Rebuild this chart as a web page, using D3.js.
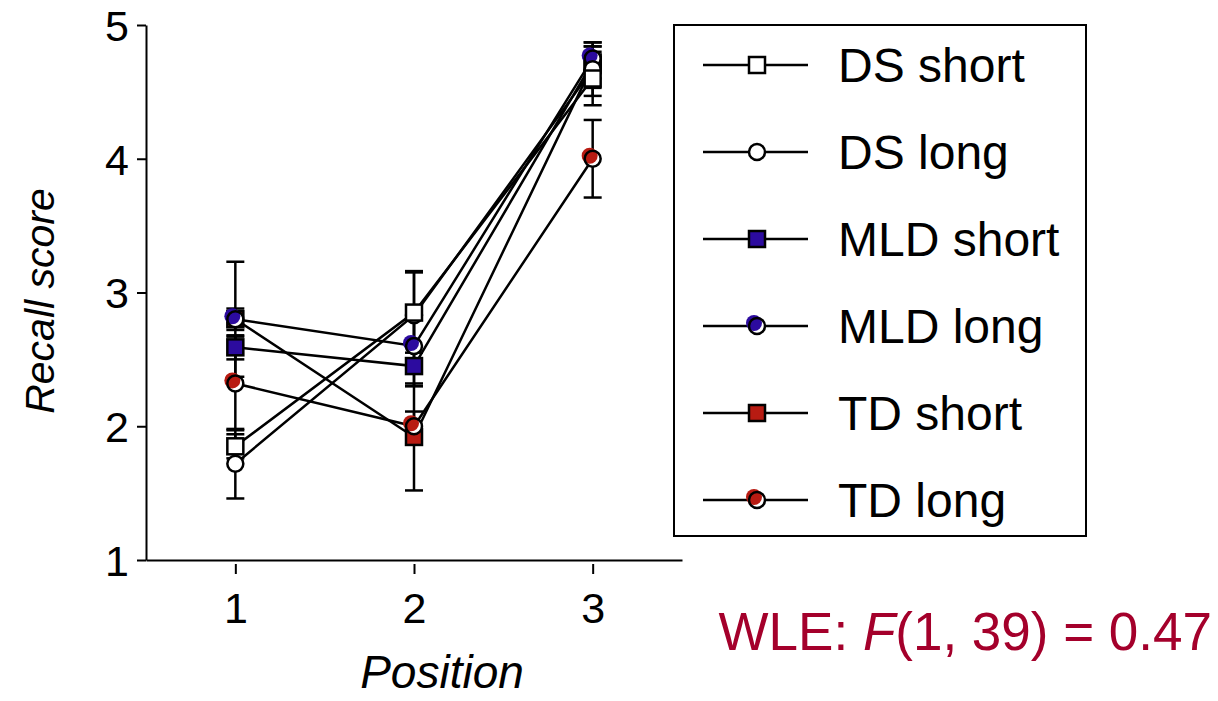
<!DOCTYPE html>
<html>
<head>
<meta charset="utf-8">
<script src="https://cdn.jsdelivr.net/npm/d3@7"></script>
<style>
  body { margin: 0; background: #fff; }
  svg text { font-family: "Liberation Sans", Arial, sans-serif; }
</style>
</head>
<body>
<div id="chart"></div>
<script>
// Données
const positions = [1, 2, 3];
const seriesNames = ['DS short', 'DS long', 'MLD short', 'MLD long', 'TD short', 'TD long'];
const dsShort = [1.85, 2.85, 4.60];
const dsShortErr = [0.09, 0.30, 0.20];
const dsLong = [1.72, 2.83, 4.67];
const dsLongErr = [0.26, 0.33, 0.20];
const mldShort = [2.59, 2.45, 4.72];
const mldShortErr = [0.09, 0.15, 0.12];
const mldLong = [2.80, 2.60, 4.75];
const mldLongErr = [0.08, 0.30, 0.09];
const tdShort = [2.80, 1.92, 4.70];
const tdShortErr = [0.43, 0.40, 0.17];
const tdLong = [2.32, 2.00, 4.00];
const tdLongErr = [0.35, 0.11, 0.29];
const yTicks = [1, 2, 3, 4, 5];

const blue = '#2c0b9f';
const red = '#b81b12';

const series = [
    { name: seriesNames[0], values: dsShort, err: dsShortErr, shape: 'square', fill: '#fff' },
    { name: seriesNames[1], values: dsLong, err: dsLongErr, shape: 'circle', fill: '#fff' },
    { name: seriesNames[2], values: mldShort, err: mldShortErr, shape: 'square', fill: blue },
    { name: seriesNames[3], values: mldLong, err: mldLongErr, shape: 'circle', fill: blue },
    { name: seriesNames[4], values: tdShort, err: tdShortErr, shape: 'square', fill: red },
    { name: seriesNames[5], values: tdLong, err: tdLongErr, shape: 'circle', fill: red }
];

const width = 1218, height = 701;
const svg = d3.select('#chart').append('svg')
    .attr('width', width)
    .attr('height', height);

const x = d3.scaleLinear().domain([0.5, 3.5]).range([146, 682]);
const y = d3.scaleLinear().domain([1, 5]).range([560, 25]);

// Axes
const yAxis = svg.append('g')
    .attr('transform', 'translate(146,0)')
    .call(d3.axisLeft(y).tickValues(yTicks).tickFormat(d3.format('d'))
        .tickSize(9).tickPadding(8).tickSizeOuter(0));
yAxis.select('.domain').attr('stroke-width', 2);
yAxis.selectAll('.tick line').attr('stroke-width', 2);
yAxis.selectAll('.tick text').style('font-size', '43px').attr('dy', '0.36em');

const xAxis = svg.append('g')
    .attr('transform', 'translate(0,560)')
    .call(d3.axisBottom(x).tickValues(positions).tickFormat(d3.format('d'))
        .tickSize(14).tickPadding(18).tickSizeOuter(0));
xAxis.select('.domain').attr('stroke-width', 2);
xAxis.selectAll('.tick line').attr('stroke-width', 2).attr('y1', 4);
xAxis.selectAll('.tick text').style('font-size', '43px');

svg.append('text')
    .attr('x', 442)
    .attr('y', 688)
    .attr('text-anchor', 'middle')
    .style('font-size', '46px')
    .style('font-style', 'italic')
    .text('Position');

svg.append('text')
    .attr('transform', `translate(54,301) rotate(-90)`)
    .attr('text-anchor', 'middle')
    .style('font-size', '41px')
    .style('font-style', 'italic')
    .text('Recall score');

// Lignes
const line = d3.line()
    .x((d, i) => x(positions[i]))
    .y(d => y(d));

svg.append('g').selectAll('path')
    .data(series)
    .enter()
    .append('path')
    .attr('d', d => line(d.values))
    .attr('fill', 'none')
    .attr('stroke', '#000')
    .attr('stroke-width', 2.5);

// Barres d'erreur
const capW = 9;
const errG = svg.append('g').attr('stroke', '#000').attr('stroke-width', 2.5);
series.forEach(s => {
    s.values.forEach((v, i) => {
        const cx = x(positions[i]);
        const y0 = y(v - s.err[i]);
        const y1 = y(v + s.err[i]);
        errG.append('line').attr('x1', cx).attr('x2', cx).attr('y1', y0).attr('y2', y1);
        errG.append('line').attr('x1', cx - capW).attr('x2', cx + capW).attr('y1', y0).attr('y2', y0);
        errG.append('line').attr('x1', cx - capW).attr('x2', cx + capW).attr('y1', y1).attr('y2', y1);
    });
});

// Marqueurs
function drawMarker(g, s, cx, cy) {
    if (s.shape === 'square') {
        g.append('rect')
            .attr('x', cx - 8).attr('y', cy - 8)
            .attr('width', 16).attr('height', 16)
            .attr('fill', s.fill)
            .attr('stroke', '#000')
            .attr('stroke-width', 2.5);
    } else if (s.fill === '#fff') {
        g.append('circle')
            .attr('cx', cx).attr('cy', cy).attr('r', 8)
            .attr('fill', '#fff')
            .attr('stroke', '#000')
            .attr('stroke-width', 2.5);
    } else {
        g.append('circle')
            .attr('cx', cx).attr('cy', cy).attr('r', 8)
            .attr('fill', '#fff');
        g.append('circle')
            .attr('cx', cx - 3).attr('cy', cy - 3).attr('r', 8)
            .attr('fill', s.fill);
        g.append('circle')
            .attr('cx', cx).attr('cy', cy).attr('r', 8)
            .attr('fill', 'none')
            .attr('stroke', '#000')
            .attr('stroke-width', 2.5);
    }
}

const drawOrder = [4, 5, 2, 3, 1, 0];
const markG = svg.append('g');
drawOrder.forEach(k => {
    const s = series[k];
    s.values.forEach((v, i) => drawMarker(markG, s, x(positions[i]), y(v)));
});

// Légende
const legend = svg.append('g');
legend.append('rect')
    .attr('x', 674).attr('y', 25)
    .attr('width', 412).attr('height', 511)
    .attr('fill', '#fff')
    .attr('stroke', '#000')
    .attr('stroke-width', 2);

series.forEach((s, i) => {
    const ly = 65 + i * 87;
    legend.append('line')
        .attr('x1', 703).attr('x2', 808)
        .attr('y1', ly).attr('y2', ly)
        .attr('stroke', '#000')
        .attr('stroke-width', 2.5);
    drawMarker(legend, s, 757, ly);
    legend.append('text')
        .attr('x', 838).attr('y', ly)
        .attr('dy', '0.36em')
        .style('font-size', '48px')
        .text(s.name);
});

// Statistique
const stat = svg.append('text')
    .attr('x', 1212).attr('y', 650)
    .attr('text-anchor', 'end')
    .attr('fill', '#a4002b')
    .style('font-size', '53px');
stat.append('tspan').text('WLE: ');
stat.append('tspan').style('font-style', 'italic').text('F');
stat.append('tspan').text('(1, 39) = 0.47');
</script>
</body>
</html>
